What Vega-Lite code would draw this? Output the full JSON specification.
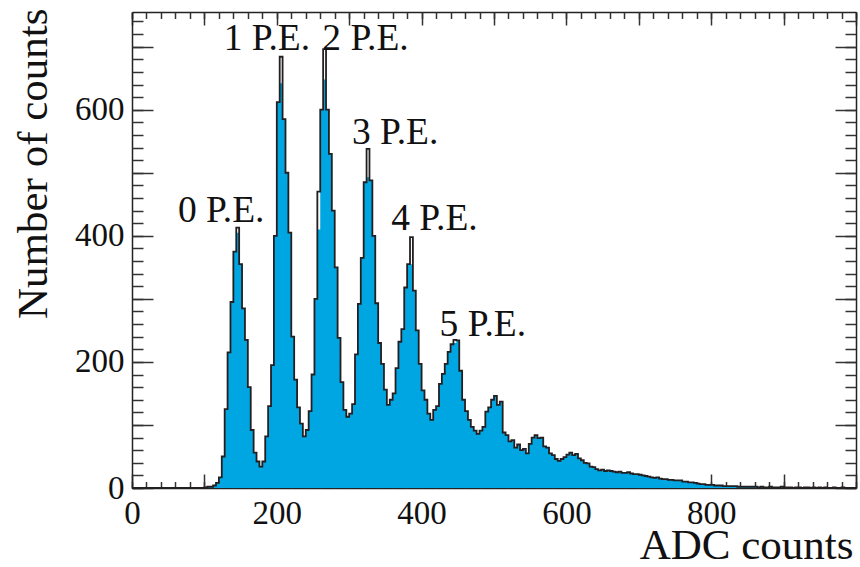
{
  "$schema": "https://vega.github.io/schema/vega-lite/v6.json",
  "width": 724,
  "height": 476,
  "autosize": {"type": "none"},
  "padding": {"left": 132, "top": 12, "right": 4, "bottom": 79},
  "background": "white",
  "config": {
    "view": {"stroke": null},
    "font": "Liberation Serif",
    "axis": {
      "grid": false,
      "labelFont": "Liberation Serif",
      "titleFont": "Liberation Serif",
      "labelColor": "#111111",
      "titleColor": "#111111",
      "tickColor": "#333333",
      "domainColor": "#222222",
      "titleFontWeight": "normal",
      "zindex": 1
    }
  },
  "datasets": {
    "hist": [
      {"adc": 0, "fill": 0, "line": 0},
      {"adc": 96, "fill": 0, "line": 0},
      {"adc": 100, "fill": 1, "line": 1},
      {"adc": 104, "fill": 2, "line": 2},
      {"adc": 108, "fill": 2, "line": 2},
      {"adc": 112, "fill": 4, "line": 4},
      {"adc": 116, "fill": 8, "line": 8},
      {"adc": 120, "fill": 17, "line": 17},
      {"adc": 124, "fill": 50, "line": 50},
      {"adc": 128, "fill": 125, "line": 125},
      {"adc": 132, "fill": 215, "line": 215},
      {"adc": 136, "fill": 295, "line": 295},
      {"adc": 140, "fill": 375, "line": 375},
      {"adc": 144, "fill": 405, "line": 413},
      {"adc": 148, "fill": 355, "line": 355},
      {"adc": 152, "fill": 285, "line": 285},
      {"adc": 156, "fill": 235, "line": 235},
      {"adc": 160, "fill": 160, "line": 160},
      {"adc": 164, "fill": 92, "line": 92},
      {"adc": 168, "fill": 56, "line": 56},
      {"adc": 172, "fill": 42, "line": 42},
      {"adc": 176, "fill": 34, "line": 34},
      {"adc": 180, "fill": 42, "line": 42},
      {"adc": 184, "fill": 82, "line": 82},
      {"adc": 188, "fill": 130, "line": 130},
      {"adc": 192, "fill": 195, "line": 195},
      {"adc": 196, "fill": 400, "line": 400},
      {"adc": 200, "fill": 612, "line": 612},
      {"adc": 204, "fill": 642, "line": 684},
      {"adc": 208, "fill": 585, "line": 585},
      {"adc": 212, "fill": 500, "line": 500},
      {"adc": 216, "fill": 405, "line": 405},
      {"adc": 220, "fill": 240, "line": 240},
      {"adc": 224, "fill": 172, "line": 172},
      {"adc": 228, "fill": 128, "line": 128},
      {"adc": 232, "fill": 102, "line": 102},
      {"adc": 236, "fill": 82, "line": 82},
      {"adc": 240, "fill": 92, "line": 92},
      {"adc": 244, "fill": 122, "line": 122},
      {"adc": 248, "fill": 180, "line": 180},
      {"adc": 252, "fill": 300, "line": 300},
      {"adc": 256, "fill": 410, "line": 470},
      {"adc": 260, "fill": 600, "line": 600},
      {"adc": 264, "fill": 648, "line": 696},
      {"adc": 268, "fill": 600, "line": 600},
      {"adc": 272, "fill": 530, "line": 530},
      {"adc": 276, "fill": 440, "line": 440},
      {"adc": 280, "fill": 350, "line": 350},
      {"adc": 284, "fill": 238, "line": 238},
      {"adc": 288, "fill": 168, "line": 168},
      {"adc": 292, "fill": 124, "line": 124},
      {"adc": 296, "fill": 113, "line": 113},
      {"adc": 300, "fill": 118, "line": 118},
      {"adc": 304, "fill": 133, "line": 133},
      {"adc": 308, "fill": 212, "line": 212},
      {"adc": 312, "fill": 292, "line": 292},
      {"adc": 316, "fill": 365, "line": 365},
      {"adc": 320, "fill": 485, "line": 485},
      {"adc": 324, "fill": 493, "line": 538},
      {"adc": 328, "fill": 488, "line": 488},
      {"adc": 332, "fill": 400, "line": 400},
      {"adc": 336, "fill": 293, "line": 293},
      {"adc": 340, "fill": 230, "line": 230},
      {"adc": 344, "fill": 197, "line": 197},
      {"adc": 348, "fill": 156, "line": 156},
      {"adc": 352, "fill": 132, "line": 132},
      {"adc": 356, "fill": 140, "line": 140},
      {"adc": 360, "fill": 150, "line": 150},
      {"adc": 364, "fill": 190, "line": 190},
      {"adc": 368, "fill": 232, "line": 232},
      {"adc": 372, "fill": 252, "line": 252},
      {"adc": 376, "fill": 318, "line": 318},
      {"adc": 380, "fill": 355, "line": 355},
      {"adc": 384, "fill": 355, "line": 398},
      {"adc": 388, "fill": 313, "line": 313},
      {"adc": 392, "fill": 250, "line": 250},
      {"adc": 396, "fill": 197, "line": 197},
      {"adc": 400, "fill": 155, "line": 155},
      {"adc": 404, "fill": 140, "line": 140},
      {"adc": 408, "fill": 118, "line": 118},
      {"adc": 412, "fill": 108, "line": 108},
      {"adc": 416, "fill": 124, "line": 124},
      {"adc": 420, "fill": 130, "line": 130},
      {"adc": 424, "fill": 165, "line": 165},
      {"adc": 428, "fill": 181, "line": 181},
      {"adc": 432, "fill": 197, "line": 197},
      {"adc": 436, "fill": 216, "line": 216},
      {"adc": 440, "fill": 228, "line": 228},
      {"adc": 444, "fill": 230, "line": 235},
      {"adc": 448, "fill": 234, "line": 234},
      {"adc": 452, "fill": 186, "line": 186},
      {"adc": 456, "fill": 140, "line": 140},
      {"adc": 460, "fill": 122, "line": 122},
      {"adc": 464, "fill": 108, "line": 108},
      {"adc": 468, "fill": 97, "line": 97},
      {"adc": 472, "fill": 91, "line": 91},
      {"adc": 476, "fill": 86, "line": 86},
      {"adc": 480, "fill": 91, "line": 91},
      {"adc": 484, "fill": 97, "line": 97},
      {"adc": 488, "fill": 121, "line": 121},
      {"adc": 492, "fill": 128, "line": 128},
      {"adc": 496, "fill": 140, "line": 140},
      {"adc": 500, "fill": 146, "line": 146},
      {"adc": 504, "fill": 132, "line": 132},
      {"adc": 508, "fill": 137, "line": 137},
      {"adc": 512, "fill": 88, "line": 88},
      {"adc": 516, "fill": 84, "line": 84},
      {"adc": 520, "fill": 74, "line": 74},
      {"adc": 524, "fill": 76, "line": 76},
      {"adc": 528, "fill": 64, "line": 64},
      {"adc": 532, "fill": 69, "line": 69},
      {"adc": 536, "fill": 60, "line": 60},
      {"adc": 540, "fill": 62, "line": 62},
      {"adc": 544, "fill": 55, "line": 55},
      {"adc": 548, "fill": 70, "line": 70},
      {"adc": 552, "fill": 80, "line": 80},
      {"adc": 556, "fill": 84, "line": 84},
      {"adc": 560, "fill": 79, "line": 79},
      {"adc": 564, "fill": 80, "line": 80},
      {"adc": 568, "fill": 66, "line": 66},
      {"adc": 572, "fill": 64, "line": 64},
      {"adc": 576, "fill": 55, "line": 55},
      {"adc": 580, "fill": 52, "line": 52},
      {"adc": 584, "fill": 46, "line": 46},
      {"adc": 588, "fill": 43, "line": 43},
      {"adc": 592, "fill": 46, "line": 46},
      {"adc": 596, "fill": 49, "line": 49},
      {"adc": 600, "fill": 53, "line": 53},
      {"adc": 604, "fill": 56, "line": 56},
      {"adc": 608, "fill": 52, "line": 52},
      {"adc": 612, "fill": 54, "line": 54},
      {"adc": 616, "fill": 47, "line": 47},
      {"adc": 620, "fill": 44, "line": 44},
      {"adc": 624, "fill": 40, "line": 40},
      {"adc": 628, "fill": 39, "line": 39},
      {"adc": 632, "fill": 34, "line": 34},
      {"adc": 636, "fill": 33, "line": 33},
      {"adc": 640, "fill": 30, "line": 30},
      {"adc": 644, "fill": 28, "line": 28},
      {"adc": 648, "fill": 29, "line": 29},
      {"adc": 652, "fill": 27, "line": 27},
      {"adc": 656, "fill": 28, "line": 28},
      {"adc": 660, "fill": 27, "line": 27},
      {"adc": 664, "fill": 26, "line": 26},
      {"adc": 668, "fill": 25, "line": 25},
      {"adc": 672, "fill": 26, "line": 26},
      {"adc": 676, "fill": 24, "line": 24},
      {"adc": 680, "fill": 24, "line": 24},
      {"adc": 684, "fill": 25, "line": 25},
      {"adc": 688, "fill": 23, "line": 23},
      {"adc": 692, "fill": 22, "line": 22},
      {"adc": 696, "fill": 22, "line": 22},
      {"adc": 700, "fill": 21, "line": 21},
      {"adc": 704, "fill": 20, "line": 20},
      {"adc": 708, "fill": 19, "line": 19},
      {"adc": 712, "fill": 18, "line": 18},
      {"adc": 716, "fill": 17, "line": 17},
      {"adc": 720, "fill": 16, "line": 16},
      {"adc": 724, "fill": 17, "line": 17},
      {"adc": 728, "fill": 15, "line": 15},
      {"adc": 732, "fill": 14, "line": 14},
      {"adc": 736, "fill": 14, "line": 14},
      {"adc": 740, "fill": 13, "line": 13},
      {"adc": 744, "fill": 13, "line": 13},
      {"adc": 748, "fill": 12, "line": 12},
      {"adc": 752, "fill": 12, "line": 12},
      {"adc": 756, "fill": 12, "line": 12},
      {"adc": 760, "fill": 10, "line": 10},
      {"adc": 764, "fill": 10, "line": 10},
      {"adc": 768, "fill": 9, "line": 9},
      {"adc": 772, "fill": 9, "line": 9},
      {"adc": 776, "fill": 8, "line": 8},
      {"adc": 780, "fill": 7, "line": 7},
      {"adc": 784, "fill": 6, "line": 6},
      {"adc": 788, "fill": 6, "line": 6},
      {"adc": 792, "fill": 5, "line": 5},
      {"adc": 796, "fill": 5, "line": 5},
      {"adc": 800, "fill": 5, "line": 5},
      {"adc": 804, "fill": 4, "line": 4},
      {"adc": 808, "fill": 4, "line": 4},
      {"adc": 812, "fill": 4, "line": 4},
      {"adc": 816, "fill": 3, "line": 3},
      {"adc": 820, "fill": 3, "line": 3},
      {"adc": 824, "fill": 3, "line": 3},
      {"adc": 828, "fill": 3, "line": 3},
      {"adc": 832, "fill": 3, "line": 3},
      {"adc": 836, "fill": 2, "line": 2},
      {"adc": 840, "fill": 2, "line": 2},
      {"adc": 844, "fill": 2, "line": 2},
      {"adc": 848, "fill": 2, "line": 2},
      {"adc": 852, "fill": 2, "line": 2},
      {"adc": 856, "fill": 2, "line": 2},
      {"adc": 860, "fill": 2, "line": 2},
      {"adc": 864, "fill": 1, "line": 1},
      {"adc": 868, "fill": 2, "line": 2},
      {"adc": 872, "fill": 1, "line": 1},
      {"adc": 876, "fill": 1, "line": 1},
      {"adc": 880, "fill": 2, "line": 2},
      {"adc": 884, "fill": 1, "line": 1},
      {"adc": 888, "fill": 1, "line": 1},
      {"adc": 892, "fill": 1, "line": 1},
      {"adc": 896, "fill": 2, "line": 2},
      {"adc": 900, "fill": 1, "line": 1},
      {"adc": 904, "fill": 1, "line": 1},
      {"adc": 908, "fill": 1, "line": 1},
      {"adc": 912, "fill": 0, "line": 0},
      {"adc": 916, "fill": 1, "line": 1},
      {"adc": 920, "fill": 1, "line": 1},
      {"adc": 924, "fill": 0, "line": 0},
      {"adc": 928, "fill": 1, "line": 1},
      {"adc": 932, "fill": 1, "line": 1},
      {"adc": 936, "fill": 0, "line": 0},
      {"adc": 940, "fill": 1, "line": 1},
      {"adc": 944, "fill": 0, "line": 0},
      {"adc": 948, "fill": 1, "line": 1},
      {"adc": 952, "fill": 0, "line": 0},
      {"adc": 956, "fill": 1, "line": 1},
      {"adc": 960, "fill": 0, "line": 0},
      {"adc": 964, "fill": 0, "line": 0},
      {"adc": 968, "fill": 1, "line": 1},
      {"adc": 972, "fill": 0, "line": 0},
      {"adc": 976, "fill": 0, "line": 0},
      {"adc": 980, "fill": 1, "line": 1},
      {"adc": 984, "fill": 0, "line": 0},
      {"adc": 988, "fill": 0, "line": 0},
      {"adc": 992, "fill": 0, "line": 0},
      {"adc": 996, "fill": 0, "line": 0},
      {"adc": 1000, "fill": 0, "line": 0}
    ],
    "labels": [
      {"adc": 63.5, "count": 421.6, "label": "0 P.E."},
      {"adc": 126.6, "count": 694, "label": "1 P.E."},
      {"adc": 262.8, "count": 694, "label": "2 P.E."},
      {"adc": 303.7, "count": 546, "label": "3 P.E."},
      {"adc": 358, "count": 409.5, "label": "4 P.E."},
      {"adc": 424.8, "count": 240.6, "label": "5 P.E."}
    ]
  },
  "layer": [
    {
      "data": {"name": "hist"},
      "mark": {"type": "area", "interpolate": "step-after", "color": "#00a6e1"},
      "encoding": {
        "x": {
          "field": "adc", "type": "quantitative",
          "scale": {"domain": [0, 1000], "nice": false, "zero": false},
          "axis": {
            "orient": "bottom",
            "values": [0, 100, 200, 300, 400, 500, 600, 700, 800, 900, 1000],
            "tickSize": -14, "tickWidth": 1.5,
            "format": "d",
            "labelFontSize": 33, "labelPadding": 49, "labelBaseline": "alphabetic",
            "labelFlush": false, "labelOverlap": false,
            "labelExpr": "datum.value % 200 == 0 && datum.value < 1000 ? datum.label : ''",
            "domainWidth": 1.5,
            "title": "ADC counts", "titleFontSize": 43,
            "titleAlign": "right", "titleBaseline": "alphabetic",
            "titleX": 721, "titleY": 70
          }
        },
        "y": {
          "field": "fill", "type": "quantitative",
          "scale": {"domain": [0, 755], "nice": false},
          "axis": {
            "orient": "left",
            "values": [0, 100, 200, 300, 400, 500, 600, 700],
            "tickSize": -21, "tickWidth": 1.5,
            "format": "d",
            "labelFontSize": 33, "labelPadding": 29, "labelBaseline": "middle",
            "labelFlush": false, "labelOverlap": false,
            "labelExpr": "datum.value % 200 == 0 ? datum.label : ''",
            "domainWidth": 1.5,
            "title": "Number of counts", "titleFontSize": 43,
            "titleAngle": -90, "titleAlign": "right", "titleBaseline": "alphabetic",
            "titleX": -86, "titleY": -4
          }
        }
      }
    },
    {
      "data": {"name": "hist"},
      "mark": {"type": "line", "interpolate": "step-after", "color": "#231f20", "strokeWidth": 1.8},
      "encoding": {
        "x": {
          "field": "adc", "type": "quantitative",
          "scale": {"domain": [0, 1000], "nice": false, "zero": false},
          "axis": {
            "orient": "bottom",
            "values": [0, 20, 40, 60, 80, 100, 120, 140, 160, 180, 200, 220, 240, 260, 280, 300, 320, 340, 360, 380, 400, 420, 440, 460, 480, 500, 520, 540, 560, 580, 600, 620, 640, 660, 680, 700, 720, 740, 760, 780, 800, 820, 840, 860, 880, 900, 920, 940, 960, 980, 1000],
            "tickSize": -6.5, "tickWidth": 1.5,
            "labels": false, "domain": false, "title": null
          }
        },
        "y": {
          "field": "line", "type": "quantitative",
          "scale": {"domain": [0, 755], "nice": false},
          "axis": {
            "orient": "left",
            "values": [0, 20, 40, 60, 80, 100, 120, 140, 160, 180, 200, 220, 240, 260, 280, 300, 320, 340, 360, 380, 400, 420, 440, 460, 480, 500, 520, 540, 560, 580, 600, 620, 640, 660, 680, 700, 720, 740],
            "tickSize": -11, "tickWidth": 1.5,
            "labels": false, "domain": false, "title": null
          }
        }
      }
    },
    {
      "data": {"name": "labels"},
      "mark": {"type": "text", "align": "left", "baseline": "alphabetic", "fontSize": 37.5, "font": "Liberation Serif", "color": "#111111"},
      "encoding": {
        "x": {
          "field": "adc", "type": "quantitative",
          "scale": {"domain": [0, 1000], "nice": false, "zero": false},
          "axis": {
            "orient": "top",
            "values": [0, 100, 200, 300, 400, 500, 600, 700, 800, 900, 1000],
            "tickSize": -13, "tickWidth": 1.5,
            "labels": false, "domain": true, "domainWidth": 1.5, "title": null
          }
        },
        "y": {
          "field": "count", "type": "quantitative",
          "scale": {"domain": [0, 755], "nice": false},
          "axis": {
            "orient": "right",
            "values": [0, 100, 200, 300, 400, 500, 600, 700],
            "tickSize": -21, "tickWidth": 1.5,
            "labels": false, "domain": true, "domainWidth": 1.5, "title": null
          }
        },
        "text": {"field": "label", "type": "nominal"}
      }
    },
    {
      "data": {"name": "labels"},
      "mark": {"type": "point", "opacity": 0},
      "encoding": {
        "x": {
          "field": "adc", "type": "quantitative",
          "scale": {"domain": [0, 1000], "nice": false, "zero": false},
          "axis": {
            "orient": "top",
            "values": [0, 20, 40, 60, 80, 100, 120, 140, 160, 180, 200, 220, 240, 260, 280, 300, 320, 340, 360, 380, 400, 420, 440, 460, 480, 500, 520, 540, 560, 580, 600, 620, 640, 660, 680, 700, 720, 740, 760, 780, 800, 820, 840, 860, 880, 900, 920, 940, 960, 980, 1000],
            "tickSize": -6.5, "tickWidth": 1.5,
            "labels": false, "domain": false, "title": null
          }
        },
        "y": {
          "field": "count", "type": "quantitative",
          "scale": {"domain": [0, 755], "nice": false},
          "axis": {
            "orient": "right",
            "values": [0, 20, 40, 60, 80, 100, 120, 140, 160, 180, 200, 220, 240, 260, 280, 300, 320, 340, 360, 380, 400, 420, 440, 460, 480, 500, 520, 540, 560, 580, 600, 620, 640, 660, 680, 700, 720, 740],
            "tickSize": -11, "tickWidth": 1.5,
            "labels": false, "domain": false, "title": null
          }
        }
      }
    }
  ],
  "resolve": {"axis": {"x": "independent", "y": "independent"}}
}
